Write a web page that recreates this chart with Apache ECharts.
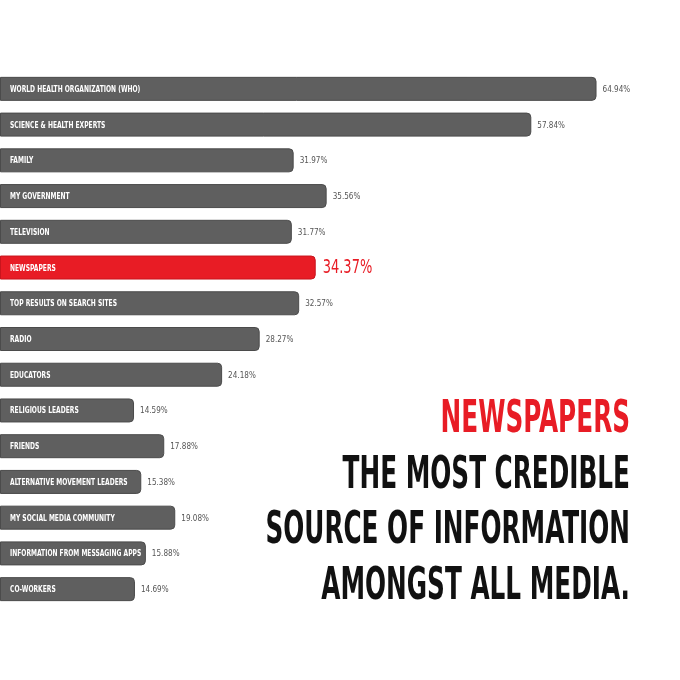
<!DOCTYPE html>
<html>
<head>
<meta charset="utf-8">
<script src="https://cdn.jsdelivr.net/npm/echarts@6/dist/echarts.min.js"></script>
<style>
  html, body { margin: 0; padding: 0; background: #fff; }
  #chart { width: 680px; height: 680px; }
</style>
</head>
<body>
<div id="chart"></div>
<script>
// data
var categories = [
    'WORLD HEALTH ORGANIZATION (WHO)', 'SCIENCE & HEALTH EXPERTS', 'FAMILY', 'MY GOVERNMENT',
    'TELEVISION', 'NEWSPAPERS', 'TOP RESULTS ON SEARCH SITES', 'RADIO', 'EDUCATORS',
    'RELIGIOUS LEADERS', 'FRIENDS', 'ALTERNATIVE MOVEMENT LEADERS', 'MY SOCIAL MEDIA COMMUNITY',
    'INFORMATION FROM MESSAGING APPS', 'CO-WORKERS'
];
var values = [64.94, 57.84, 31.97, 35.56, 31.77, 34.37, 32.57, 28.27, 24.18, 14.59, 17.88, 15.38, 19.08, 15.88, 14.69];
var highlight = 'NEWSPAPERS';
var headline = ['NEWSPAPERS', 'THE MOST CREDIBLE', 'SOURCE OF INFORMATION', 'AMONGST ALL MEDIA.'];

var FONT = '"DejaVu Sans Condensed", "DejaVu Sans", sans-serif';
var GREY = '#5f5f5f';
var RED = '#e81c25';

var myChart = echarts.init(document.getElementById('chart'));

var barData = values.map(function (v, i) {
    var hot = categories[i] === highlight;
    return {
        value: v,
        itemStyle: {
            color: hot ? RED : GREY,
            borderColor: hot ? '#c8151d' : '#4b4b4b'
        }
    };
});

myChart.setOption({
    animation: false,
    grid: { left: 0, right: 37, top: 71, bottom: 73 },
    xAxis: { type: 'value', min: 0, max: 70, show: false },
    yAxis: { type: 'category', data: categories, inverse: true, show: false },
    series: [{
        type: 'bar',
        data: barData,
        barWidth: 24,
        itemStyle: { borderWidth: 1, borderRadius: [0, 4, 4, 0] }
    }]
});

// text is drawn as graphic elements so it can be squeezed like the condensed original
var graphics = [];

headline.forEach(function (t, i) {
    graphics.push({
        type: 'text',
        x: 630,
        y: 421 + i * 55.5,
        scaleX: 0.625,
        style: {
            text: t, x: 0, y: 0, align: 'right', verticalAlign: 'middle',
            fontFamily: FONT, fontWeight: 'bold', fontSize: 44,
            fill: i === 0 ? RED : '#111'
        }
    });
});

categories.forEach(function (c, i) {
    var hot = c === highlight;
    var start = myChart.convertToPixel({ gridIndex: 0 }, [0, c]);
    var end = myChart.convertToPixel({ gridIndex: 0 }, [values[i], c]);
    graphics.push({
        type: 'text',
        x: start[0] + 10,
        y: start[1] + 0.5,
        scaleX: 0.70,
        z: 10,
        style: {
            text: c, x: 0, y: 0, align: 'left', verticalAlign: 'middle',
            fontFamily: FONT, fontWeight: 'bold', fontSize: 9.5, fill: '#fff'
        }
    });
    graphics.push({
        type: 'text',
        x: end[0] + (hot ? 7 : 6),
        y: end[1] + 0.5,
        scaleX: hot ? 0.76 : 0.85,
        z: 10,
        style: {
            text: values[i].toFixed(2) + '%', x: 0, y: 0, align: 'left', verticalAlign: 'middle',
            fontFamily: FONT, fontSize: hot ? 19 : 9.5, fill: hot ? RED : '#555'
        }
    });
});

myChart.setOption({ graphic: graphics });
</script>
</body>
</html>
